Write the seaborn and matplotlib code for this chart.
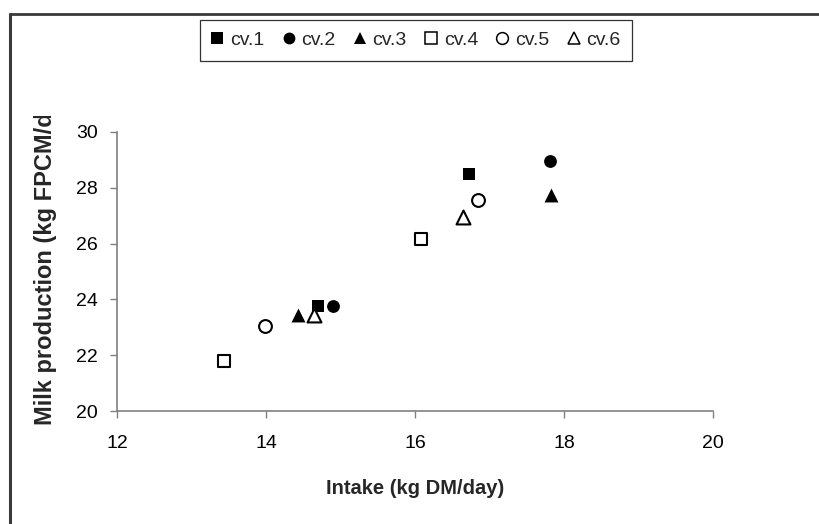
import matplotlib
matplotlib.use("Agg")
import matplotlib.pyplot as plt
import numpy as np
import pandas as pd
import seaborn as sns
from matplotlib.lines import Line2D
from matplotlib.transforms import Bbox, TransformedBbox

cultivars = ["cv.1", "cv.2", "cv.3", "cv.4", "cv.5", "cv.6"]
intake = [
    [14.70, 16.72],
    [14.90, 17.81],
    [14.43, 17.82],
    [13.43, 16.08],
    [13.98, 16.85],
    [14.65, 16.65],
]
milk = [
    [23.75, 28.50],
    [23.75, 28.95],
    [23.45, 27.75],
    [21.80, 26.15],
    [23.05, 27.55],
    [23.45, 26.95],
]
x_ticks = [12, 14, 16, 18, 20]
y_ticks = [20, 22, 24, 26, 28, 30]

markers = ["s", "o", "^", "s", "o", "^"]
filled = [True, True, True, False, False, False]

rows = []
for cv, xs, ys in zip(cultivars, intake, milk):
    for x, y in zip(xs, ys):
        rows.append([cv, x, y])
df = pd.DataFrame(rows, columns=["cultivar", "intake", "milk"])

sns.set_theme(style="white")
plt.rcParams["font.family"] = ["Liberation Sans", "DejaVu Sans"]

W, H = 820, 524
fig = plt.figure(figsize=(W / 100, H / 100), dpi=100)
ax = fig.add_axes([117 / W, 1 - 411 / H, (713 - 117) / W, (411 - 132) / H])

for cv, m, f in zip(cultivars, markers, filled):
    sub = df[df["cultivar"] == cv]
    sns.scatterplot(
        data=sub,
        x="intake",
        y="milk",
        marker=m,
        s=85 if m != "^" else 100,
        facecolor="black" if f else "white",
        edgecolor="black",
        linewidth=0 if f else 1.5,
        label=cv,
        ax=ax,
        legend=False,
        zorder=3,
    )

ax.set_xlim(12, 20)
ax.set_ylim(20, 30)
ax.set_xticks(x_ticks)
ax.set_yticks(y_ticks)
ax.set_xlabel("")
ax.set_ylabel("")
sns.despine(ax=ax)
for side in ["left", "bottom"]:
    ax.spines[side].set_color("#808080")
    ax.spines[side].set_linewidth(1.2)
ax.tick_params(
    axis="both",
    direction="out",
    length=5,
    width=1,
    color="#808080",
    labelsize=14,
    labelcolor="black",
    left=True,
    bottom=True,
)
ax.tick_params(axis="y", pad=9)
ax.tick_params(axis="x", pad=12)

fig.text(
    415 / W, 1 - 488 / H, "Intake (kg DM/day)",
    ha="center", va="center", fontsize=14.5, fontweight="bold",
)
ylab = fig.text(
    46 / W, 1 - 425 / H, "Milk production (kg FPCM/day)",
    ha="center", va="bottom", rotation=90, fontsize=17, fontweight="bold",
)
ylab.set_clip_box(TransformedBbox(Bbox.from_extents(0, 0, 1, 1 - 116 / H), fig.transFigure))
ylab.set_clip_on(True)

handles = [
    Line2D([], [], linestyle="none", marker=m, markersize=8.5,
           markerfacecolor="black" if f else "white", markeredgecolor="black",
           markeredgewidth=0 if f else 1.1)
    for m, f in zip(markers, filled)
]
leg = fig.legend(
    handles, cultivars, loc="upper center",
    bbox_to_anchor=(416 / W, 1 - 20 / H), ncol=6, frameon=True, fancybox=False,
    fontsize=14, handlelength=0.6, handletextpad=0.35, columnspacing=0.95,
    borderpad=0.6, borderaxespad=0, edgecolor="black",
)
leg.get_frame().set_linewidth(0.9)

border_color = "#3a3a3a"
fig.add_artist(Line2D([10 / W, 1], [1 - 14 / H, 1 - 14 / H], transform=fig.transFigure,
                      color=border_color, linewidth=2))
fig.add_artist(Line2D([10.5 / W, 10.5 / W], [0, 1 - 14 / H], transform=fig.transFigure,
                      color=border_color, linewidth=2.2))

fig.savefig("out.png", dpi=100)
